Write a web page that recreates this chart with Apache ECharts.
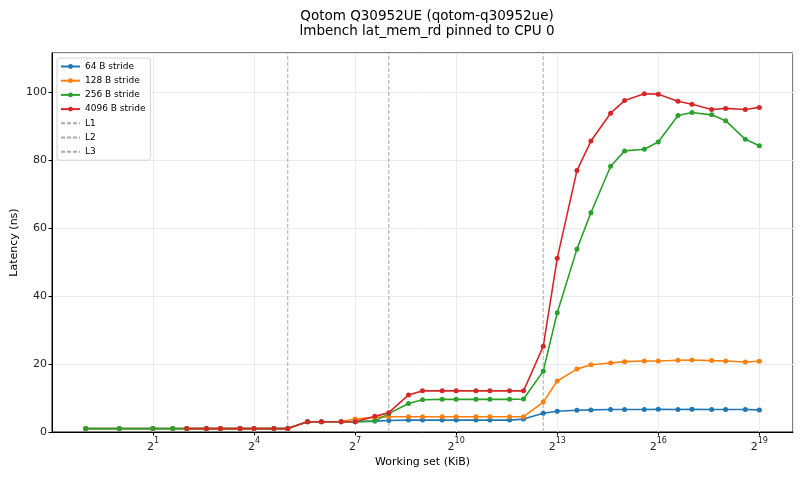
<!DOCTYPE html>
<html>
<head>
<meta charset="utf-8">
<script src="https://cdn.jsdelivr.net/npm/echarts@6/dist/echarts.min.js"></script>
<style>
  html, body { margin: 0; padding: 0; background: #fff; }
  #chart { width: 800px; height: 477px; }
</style>
</head>
<body>
<div id="chart"></div>
<script>
// working set sizes (KiB)
var sizesKiB = [0.5, 1, 2, 3, 4, 6, 8, 12, 16, 24, 32, 48, 64, 96, 128, 192, 256, 384, 512, 768,
    1024, 1536, 2048, 3072, 4096, 6144, 8192, 12288, 16384, 24576, 32768, 49152, 65536, 98304,
    131072, 196608, 262144, 393216, 524288];

// latency (ns) per stride
var lat64 = [1.0, 1.0, 1.0, 1.0, 1.0, 1.0, 1.0, 1.0, 1.0, 1.0, 1.0, 3.0, 3.0, 3.0, 3.0, 3.2, 3.4, 3.5, 3.5, 3.5,
    3.5, 3.5, 3.5, 3.5, 3.8, 5.5, 6.1, 6.4, 6.5, 6.6, 6.6, 6.6, 6.7, 6.6, 6.7, 6.6, 6.6, 6.6, 6.5];
var lat128 = [1.0, 1.0, 1.0, 1.0, 1.0, 1.0, 1.0, 1.0, 1.0, 1.0, 1.0, 3.0, 3.0, 3.1, 3.8, 4.3, 4.5, 4.5, 4.5, 4.5,
    4.5, 4.5, 4.5, 4.5, 4.5, 8.8, 15.0, 18.5, 19.8, 20.3, 20.7, 20.9, 20.9, 21.1, 21.2, 21.0, 20.9, 20.6, 20.8];
var lat256 = [1.0, 1.0, 1.0, 1.0, 1.0, 1.0, 1.0, 1.0, 1.0, 1.0, 1.0, 3.0, 3.0, 3.0, 3.0, 3.2, 5.4, 8.4, 9.5, 9.6,
    9.6, 9.6, 9.6, 9.6, 9.7, 17.9, 35.1, 53.8, 64.5, 78.2, 82.7, 83.2, 85.3, 93.1, 94.0, 93.3, 91.6, 86.1, 84.2];
var lat4096 = [null, null, null, null, 1.0, 1.0, 1.0, 1.0, 1.0, 1.0, 1.0, 3.0, 3.0, 3.0, 3.0, 4.6, 5.7, 10.9, 12.1, 12.1,
    12.1, 12.1, 12.1, 12.1, 12.1, 25.2, 51.1, 76.9, 85.6, 93.8, 97.5, 99.5, 99.4, 97.3, 96.4, 94.9, 95.2, 94.9, 95.5];

var strideNames = ['64 B stride', '128 B stride', '256 B stride', '4096 B stride'];
var strideColors = ['#1f77b4', '#ff7f0e', '#2ca02c', '#d62728'];

// cache sizes (KiB)
var cacheNames = ['L1', 'L2', 'L3'];
var cacheKiB = [32, 256, 6144];

var yMax = 111.5;

function pairs(vals) {
    var out = [];
    for (var i = 0; i < sizesKiB.length; i++) {
        if (vals[i] != null) out.push([Math.log2(sizesKiB[i]), vals[i]]);
    }
    return out;
}

var font = 'DejaVu Sans';
var series = [];
[lat64, lat128, lat256, lat4096].forEach(function (vals, i) {
    series.push({
        name: strideNames[i],
        type: 'line',
        data: pairs(vals),
        symbol: 'circle',
        symbolSize: 5,
        color: strideColors[i],
        lineStyle: {width: 1.6, color: strideColors[i]},
        itemStyle: {color: strideColors[i]}
    });
});
cacheKiB.forEach(function (kib, i) {
    var x = Math.log2(kib);
    series.push({
        name: cacheNames[i],
        type: 'line',
        data: [[x, 0], [x, yMax]],
        showSymbol: false,
        symbol: 'none',
        color: '#aaaaaa',
        lineStyle: {width: 1, type: [4, 2], color: '#aaaaaa'}
    });
});

// legend entries: dashed cache lines carry no marker
var legendData = strideNames.concat(cacheNames.map(function (n) {
    return {name: n, itemStyle: {opacity: 0}};
}));

var chart = echarts.init(document.getElementById('chart'));
var option = {
    animation: false,
    textStyle: {fontFamily: font},
    title: {
        text: 'Qotom Q30952UE (qotom-q30952ue)\nlmbench lat_mem_rd pinned to CPU 0',
        left: 422,
        textAlign: 'center',
        top: 4,
        textStyle: {fontFamily: font, fontSize: 13.5, fontWeight: 'normal', color: '#000', lineHeight: 15}
    },
    legend: {
        orient: 'vertical',
        left: 57,
        top: 58,
        data: legendData,
        itemWidth: 19,
        itemHeight: 6,
        itemGap: 3.2,
        padding: [3, 5, 3, 3],
        borderColor: '#d5d5d5',
        borderWidth: 1,
        borderRadius: 3,
        backgroundColor: 'rgba(255,255,255,0.8)',
        textStyle: {fontFamily: font, fontSize: 9, color: '#000', lineHeight: 11}
    },
    grid: {
        left: 52, right: 7, top: 53, bottom: 45,
        outerBoundsMode: 'none',
        show: true, borderColor: '#000', borderWidth: 1
    },
    xAxis: {
        type: 'value',
        min: -2,
        max: 20,
        interval: 3,
        name: 'Working set (KiB)',
        nameLocation: 'middle',
        nameGap: 25,
        nameMoveOverlap: false,
        nameTextStyle: {fontFamily: font, fontSize: 11, color: '#000'},
        axisLine: {onZero: false, lineStyle: {color: '#000'}},
        axisTick: {length: 3.5, lineStyle: {color: '#000'}},
        splitLine: {lineStyle: {color: '#ebebeb'}},
        axisLabel: {
            margin: 5,
            showMinLabel: false,
            showMaxLabel: false,
            formatter: function (v) {
                if (v < 1 || (v - 1) % 3 !== 0) return '';
                return '{b|2}{s|' + v + '}';
            },
            rich: {
                b: {fontFamily: font, fontSize: 11, color: '#222', lineHeight: 16, verticalAlign: 'bottom'},
                s: {fontFamily: font, fontSize: 8, color: '#222', lineHeight: 16, verticalAlign: 'top'}
            }
        }
    },
    yAxis: {
        type: 'value',
        min: 0,
        max: yMax,
        interval: 20,
        name: 'Latency (ns)',
        nameLocation: 'middle',
        nameGap: 32,
        nameMoveOverlap: false,
        nameTextStyle: {fontFamily: font, fontSize: 11, color: '#000'},
        axisLine: {show: true, onZero: false, lineStyle: {color: '#000'}},
        axisTick: {show: true, length: 3.5, lineStyle: {color: '#000'}},
        splitLine: {lineStyle: {color: '#ebebeb'}},
        axisLabel: {showMaxLabel: false, margin: 5, fontFamily: font, fontSize: 11, color: '#222'}
    },
    series: series
};
chart.setOption(option);
</script>
</body>
</html>
